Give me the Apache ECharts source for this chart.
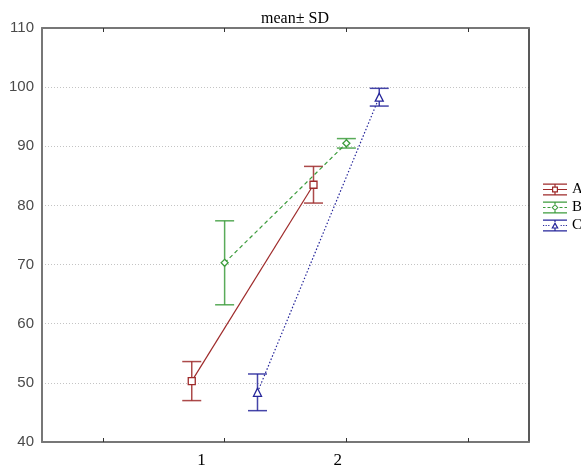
<!DOCTYPE html>
<html>
<head>
<meta charset="utf-8">
<script src="https://cdn.jsdelivr.net/npm/echarts@6/dist/echarts.min.js"></script>
<style>html,body{margin:0;padding:0;background:#fff;}#c{width:581px;height:469px;}</style>
</head>
<body>
<div id="c"></div>
<script>
// ---- data ----
const levels = [1, 2];
const xTickLabels = ['1', '2'];
const seriesNames = ['A', 'B', 'C'];
const meanA = [50.3, 83.5];
const sdA = [3.3, 3.1];
const meanB = [70.3, 90.5];
const sdB = [7.1, 0.8];
const meanC = [48.4, 98.3];
const sdC = [3.1, 1.5];
const yTicks = [40, 50, 60, 70, 80, 90, 100, 110];

// ---- style ----
const colors = { A: '#9e2a2a', B: '#3c9c3c', C: '#25259a' };
const dodge = { A: -0.27, B: 0, C: 0.27 };
const symbols = { A: 'rect', B: 'diamond', C: 'triangle' };
const symbolSizes = { A: 7, B: 7, C: [8, 8] };
const lineTypes = { A: 'solid', B: [4, 3], C: [1.5, 2] };
const means = { A: meanA, B: meanB, C: meanC };
const sds = { A: sdA, B: sdB, C: sdC };

// legend icon paths (24 x 12 box)
const common = 'M0 0H24V1.2H0Z M0 10.8H24V12H0Z';
const iconA = 'path://' + common +
  ' M11.4 0H12.6V3H11.4Z M11.4 9H12.6V12H11.4Z' +
  ' M0 5.4H9V6.6H0Z M15 5.4H24V6.6H15Z' +
  ' M9 3H15V9H9Z M10.2 4.2V7.8H13.8V4.2Z';
const iconB = 'path://' + common +
  ' M11.4 0H12.6V2.5H11.4Z M11.4 9.5H12.6V12H11.4Z' +
  ' M0 5.4H2.5V6.6H0Z M4.5 5.4H7.5V6.6H4.5Z M16.5 5.4H19.5V6.6H16.5Z M21.5 5.4H24V6.6H21.5Z' +
  ' M12 2.5L15.5 6L12 9.5L8.5 6Z M12 3.9L9.9 6L12 8.1L14.1 6Z';
const iconC = 'path://' + common +
  ' M11.4 0H12.6V2.5H11.4Z M11.4 9H12.6V12H11.4Z' +
  ' M0 5.4H1.2V6.6H0Z M2.6 5.4H3.8V6.6H2.6Z M5.2 5.4H6.4V6.6H5.2Z M17.6 5.4H18.8V6.6H17.6Z M20.2 5.4H21.4V6.6H20.2Z M22.8 5.4H24V6.6H22.8Z' +
  ' M12 2.5L15.7 9L8.3 9Z M12 4.9L10.3 8.1L13.7 8.1Z';
const icons = { A: iconA, B: iconB, C: iconC };

const series = [];
seriesNames.forEach(function (n) {
  const col = colors[n];
  series.push({
    name: n,
    type: 'custom',
    z: 2,
    data: levels.map(function (l, i) { return [l + dodge[n], means[n][i] - sds[n][i], means[n][i] + sds[n][i]]; }),
    encode: { x: 0, y: [1, 2] },
    renderItem: function (params, api) {
      const x = api.value(0), lo = api.value(1), hi = api.value(2);
      const pt = api.coord([x, hi]), pb = api.coord([x, lo]);
      const hw = 9.5;
      const st = { stroke: col, lineWidth: 1.5, opacity: 0.85 };
      return {
        type: 'group',
        children: [
          { type: 'line', shape: { x1: pt[0], y1: pt[1], x2: pb[0], y2: pb[1] }, style: st },
          { type: 'line', shape: { x1: pt[0] - hw, y1: pt[1], x2: pt[0] + hw, y2: pt[1] }, style: st },
          { type: 'line', shape: { x1: pb[0] - hw, y1: pb[1], x2: pb[0] + hw, y2: pb[1] }, style: st }
        ]
      };
    }
  });
  series.push({
    name: n,
    type: 'line',
    z: 5,
    data: levels.map(function (l, i) { return [l + dodge[n], means[n][i]]; }),
    symbol: symbols[n],
    symbolSize: symbolSizes[n],
    showAllSymbol: true,
    lineStyle: { color: col, width: 1.2, type: lineTypes[n] },
    itemStyle: { color: '#fff', borderColor: col, borderWidth: 1.3 },
    emphasis: { disabled: true },
    animation: false
  });
});

const chart = echarts.init(document.getElementById('c'));
chart.setOption({
  animation: false,
  backgroundColor: '#fff',
  title: {
    text: 'mean\u00b1 SD',
    left: 290, top: 6, textAlign: 'center',
    textStyle: { fontFamily: 'Liberation Serif', fontSize: 16, fontWeight: 'normal', color: '#000' }
  },
  legend: {
    orient: 'vertical',
    left: 543, top: 182,
    padding: 0,
    itemWidth: 24, itemHeight: 12, itemGap: 3,
    selectedMode: false,
    textStyle: { fontFamily: 'Liberation Serif', fontSize: 15, lineHeight: 12, color: '#000' },
    data: seriesNames.map(function (n) {
      return { name: n, icon: icons[n], itemStyle: { color: colors[n], borderWidth: 0 } };
    })
  },
  grid: { left: 42, right: 52, top: 28, bottom: 27, containLabel: false },
  xAxis: [{
    type: 'value', min: -0.5, max: 3.5, position: 'bottom',
    axisLine: { show: true, onZero: false, lineStyle: { color: '#777', width: 2 } },
    axisTick: { show: true, inside: true, length: 4, customValues: [0, 1, 2, 3], lineStyle: { color: '#333', width: 1 } },
    axisLabel: {
      show: true, customValues: [0.81, 1.93], margin: 10,
      formatter: function (v) { return xTickLabels[Math.round(v) - 1]; },
      fontFamily: 'Liberation Serif', fontSize: 17, color: '#000'
    },
    splitLine: { show: false }
  }, {
    type: 'value', min: -0.5, max: 3.5, position: 'top',
    axisLine: { show: true, onZero: false, lineStyle: { color: '#777', width: 2 } },
    axisTick: { show: true, inside: true, length: 4, customValues: [0, 1, 2, 3], lineStyle: { color: '#333', width: 1 } },
    axisLabel: { show: false },
    splitLine: { show: false }
  }],
  yAxis: [{
    type: 'value', min: 40, max: 110, interval: 10, position: 'left',
    axisLine: { show: true, onZero: false, lineStyle: { color: '#777', width: 2 } },
    axisTick: { show: false },
    axisLabel: {
      margin: 8, fontFamily: 'Liberation Sans', fontSize: 15, color: '#4a4a4a',
      formatter: function (v) { return yTicks.indexOf(v) >= 0 ? String(v) : ''; }
    },
    splitLine: { show: true, lineStyle: { color: '#c4c4c4', width: 1, type: [1, 2] } }
  }, {
    type: 'value', min: 40, max: 110, interval: 10, position: 'right',
    axisLine: { show: true, onZero: false, lineStyle: { color: '#222', width: 1.5 } },
    axisTick: { show: false }, axisLabel: { show: false }, splitLine: { show: false }
  }],
  series: series
});
</script>
</body>
</html>
